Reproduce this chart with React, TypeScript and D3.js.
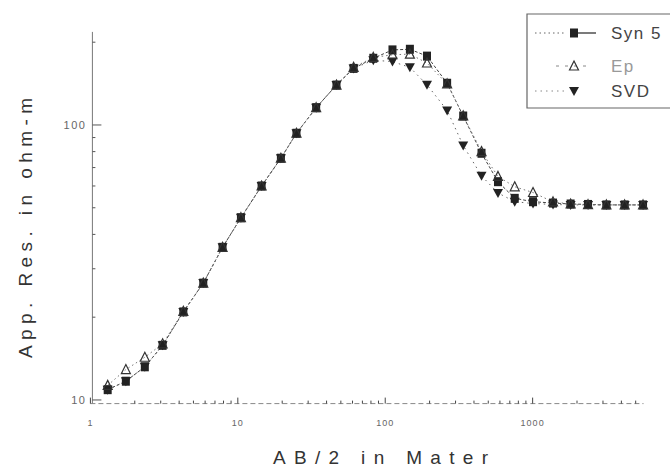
import React from "react";
import * as d3 from "d3";

// AB/2 electrode half-spacings (m)
const abHalf = [1.31, 1.74, 2.34, 3.09, 4.27, 5.83, 7.88, 10.5, 14.5, 19.6, 25, 34, 46.7, 61, 83, 112, 147, 192, 263, 338, 450, 582, 756, 1006, 1375, 1810, 2376, 3165, 4210, 5610];

// Apparent resistivity (ohm-m) for each curve
const syn5 = [10.9, 11.7, 13.2, 15.8, 20.9, 26.6, 35.9, 46, 60, 75.7, 93.3, 115.6, 139.7, 160.6, 174.8, 187.5, 188.5, 178, 141.8, 107.8, 78.9, 62.2, 54.1, 52.6, 52, 51.6, 51.4, 51.2, 51.2, 51.2];
const ep = [11.3, 12.9, 14.3, 16, 21, 26.6, 35.9, 46, 60, 75.7, 93.3, 115.6, 139.7, 162, 176, 180, 181, 168, 141, 108, 80, 65, 59.6, 56.8, 52.5, 51.6, 51.3, 51.2, 51.2, 51.2];
const svd = [10.9, 11.7, 13.2, 15.8, 20.9, 26.6, 35.9, 46, 60, 75.7, 93.3, 115.6, 139.7, 160.6, 172, 170, 162, 140, 113, 84.2, 65.3, 56.6, 52.6, 51.8, 51.4, 51.2, 51.2, 51.2, 51.2, 51.2];

const legendNames = ["Syn 5", "Ep", "SVD"];
const xTickLabels = ["1", "10", "100", "1000"];
const yTickLabels = ["10", "100"];

const W = 670;
const H = 471;
const FONT = "'Liberation Sans', Arial, sans-serif";

export default function App() {
  const x = d3.scaleLog().domain([1, 5650]).range([90.4, 643.5]);
  const y = d3.scaleLog().domain([9.7, 218]).range([403.6, 31.9]);

  const axisY = y(9.7);
  const axisX = x(1);

  const line = (vals: number[]) =>
    d3
      .line<number>()
      .x((_, i) => x(abHalf[i]))
      .y((v) => y(v))(vals) as string;

  // minor/major ticks along the x axis
  const xTicks: { v: number; major: boolean }[] = [];
  for (let dec = 1; dec <= 1000; dec *= 10) {
    for (let m = 1; m <= 9; m++) {
      const v = m * dec;
      if (v <= 5650) xTicks.push({ v, major: m === 1 });
    }
  }
  const yTicks: { v: number; major: boolean }[] = [];
  for (let dec = 10; dec <= 100; dec *= 10) {
    for (let m = 1; m <= 9; m++) {
      const v = m * dec;
      if (v <= 218) yTicks.push({ v, major: m === 1 });
    }
  }

  const sq = (cx: number, cy: number, k: string) => (
    <rect key={k} x={cx - 4} y={cy - 4.5} width={8} height={9} fill="#222" />
  );
  const triUp = (cx: number, cy: number, k: string) => (
    <path
      key={k}
      d={`M${cx},${cy - 5}L${cx + 4.5},${cy + 4}L${cx - 4.5},${cy + 4}Z`}
      fill="none"
      stroke="#333"
      strokeWidth={1.2}
    />
  );
  const triDown = (cx: number, cy: number, k: string) => (
    <path
      key={k}
      d={`M${cx - 5},${cy - 4}L${cx + 5},${cy - 4}L${cx},${cy + 5}Z`}
      fill="#222"
    />
  );

  const legX = 527;
  const legRows = [33, 66, 91];

  return (
    <svg
      width={W}
      height={H}
      style={{ position: "absolute", left: 0, top: 0, background: "#fff" }}
      fontFamily={FONT}
    >
      <rect width={W} height={H} fill="#fff" />

      {/* y axis */}
      <line x1={axisX + 2} x2={axisX + 2} y1={y(218)} y2={axisY} stroke="#777" strokeWidth={1} />
      {yTicks.map((t) => (
        <line
          key={"yt" + t.v}
          x1={axisX + 2}
          x2={axisX + 2 + (t.major ? 9 : 3)}
          y1={y(t.v)}
          y2={y(t.v)}
          stroke="#555"
          strokeWidth={1}
        />
      ))}
      {yTickLabels.map((s) => (
        <text
          key={"yl" + s}
          x={axisX - 4}
          y={y(+s) + 4}
          textAnchor="end"
          fontSize={11}
          letterSpacing={1.5}
          fill="#666"
        >
          {s}
        </text>
      ))}

      {/* x axis */}
      <line
        x1={axisX}
        x2={x(5650)}
        y1={axisY}
        y2={axisY}
        stroke="#888"
        strokeWidth={1}
        strokeDasharray="5 3"
      />
      {xTicks.map((t) => (
        <line
          key={"xt" + t.v}
          x1={x(t.v)}
          x2={x(t.v)}
          y1={axisY}
          y2={axisY - (t.major ? 6 : 3)}
          stroke="#444"
          strokeWidth={1}
        />
      ))}
      {xTickLabels.map((s) => (
        <text
          key={"xl" + s}
          x={x(+s)}
          y={axisY + 22}
          textAnchor="middle"
          fontSize={9}
          letterSpacing={1}
          fill="#666"
        >
          {s}
        </text>
      ))}

      {/* axis titles */}
      <text
        x={273}
        y={464}
        fontSize={19}
        fill="#333"
        textLength={215}
        lengthAdjust="spacing"
      >
        AB/2 in Mater
      </text>
      <text
        transform="translate(32,358) rotate(-90)"
        fontSize={19}
        fill="#333"
        textLength={260}
        lengthAdjust="spacing"
      >
        App. Res. in ohm-m
      </text>

      {/* curves */}
      <path d={line(syn5)} fill="none" stroke="#444" strokeWidth={1} strokeDasharray="3 2" />
      <path d={line(ep)} fill="none" stroke="#777" strokeWidth={1} strokeDasharray="1.5 3" />
      <path d={line(svd)} fill="none" stroke="#666" strokeWidth={1} strokeDasharray="1.5 4" />

      {svd.map((v, i) => triDown(x(abHalf[i]), y(v), "s" + i))}
      {syn5.map((v, i) => sq(x(abHalf[i]), y(v), "q" + i))}
      {ep.map((v, i) => triUp(x(abHalf[i]), y(v), "e" + i))}

      {/* legend */}
      <path
        d={`M${W + 2},14H${legX}V108H${W + 2}`}
        fill="none"
        stroke="#666"
        strokeWidth={1.2}
      />
      <line x1={535} x2={566} y1={legRows[0]} y2={legRows[0]} stroke="#666" strokeDasharray="1.5 3" />
      <line x1={578} x2={596} y1={legRows[0]} y2={legRows[0]} stroke="#222" strokeWidth={1.2} />
      {sq(574, legRows[0], "lq")}
      <line x1={556} x2={590} y1={legRows[1]} y2={legRows[1]} stroke="#888" strokeDasharray="3 6" />
      {triUp(574, legRows[1], "le")}
      <line x1={535} x2={566} y1={legRows[2]} y2={legRows[2]} stroke="#888" strokeDasharray="1.5 4" />
      {triDown(574, legRows[2], "ls")}
      {legendNames.map((s, i) => (
        <text
          key={"ln" + s}
          x={611}
          y={legRows[i] + 6}
          fontSize={17}
          letterSpacing={1.5}
          fill={i === 1 ? "#999" : "#444"}
        >
          {s}
        </text>
      ))}
    </svg>
  );
}
